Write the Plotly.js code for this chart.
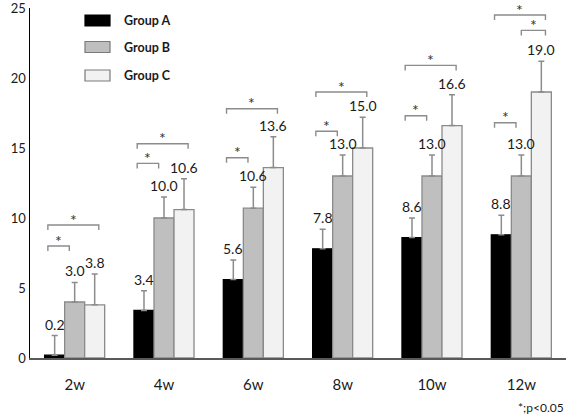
<!DOCTYPE html>
<html>
<head>
<meta charset="utf-8">
<script src="https://cdn.plot.ly/plotly-3.0.1.min.js"></script>
<style>html,body{margin:0;padding:0;background:#fff;}#chart{width:567px;height:415px;}</style>
</head>
<body>
<div id="chart"></div>
<script>
// ---- data ----
var categories = ["2w", "4w", "6w", "8w", "10w", "12w"];
var groupNames = ["Group A", "Group B", "Group C"];
var groupA = [0.2, 3.4, 5.6, 7.8, 8.6, 8.8];
var groupB = [4.0, 10.0, 10.7, 13.0, 13.0, 13.0];
var groupC = [3.8, 10.6, 13.6, 15.0, 16.6, 19.0];
var errA = [1.4, 1.4, 1.4, 1.4, 1.4, 1.4];
var errB = [1.4, 1.5, 1.5, 1.5, 1.5, 1.5];
var errC = [2.2, 2.2, 2.2, 2.2, 2.2, 2.2];
var labelsA = ["0.2", "3.4", "5.6", "7.8", "8.6", "8.8"];
var labelsB = ["3.0", "10.0", "10.6", "13.0", "13.0", "13.0"];
var labelsC = ["3.8", "10.6", "13.6", "15.0", "16.6", "19.0"];
// significance brackets: category index, from group, to group, bracket level
var sigCat   = [0, 0, 1, 1, 2, 2, 3, 3, 4, 4, 5, 5, 5];
var sigFrom  = [0, 0, 0, 0, 0, 0, 0, 0, 0, 0, 0, 1, 0];
var sigTo    = [1, 2, 1, 2, 1, 2, 1, 2, 1, 2, 1, 2, 2];
var sigLevel = [8.0, 9.5, 13.9, 15.3, 14.3, 17.8, 16.2, 19.0, 17.3, 20.9, 16.8, 23.4, 24.5];
var yTicks = [0, 5, 10, 15, 20, 25];
var noteText = "*;p<0.05";

// ---- styling ----
var W = 567, H = 415;
var M = {l: 30, r: 1, t: 8, b: 57};
var bargap = 0.328;
var fills = ["#000000", "#bfbfbf", "#f2f2f2"];
var lines = ["#000000", "#8a8a8a", "#8a8a8a"];
var FONT = "Lato, 'Open Sans', sans-serif";

var vals = [groupA, groupB, groupC];
var errs = [errA, errB, errC];
var labs = [labelsA, labelsB, labelsC];

var traces = vals.map(function (v, g) {
  return {
    type: "bar",
    name: groupNames[g],
    x: categories,
    y: v,
    marker: {color: fills[g], line: {color: lines[g], width: 1.3}},
    error_y: {type: "data", symmetric: false, array: errs[g],
              arrayminus: v.map(function () { return 0; }),
              color: "#8c8c8c", thickness: 1.5, width: 3},
    showlegend: false,
    hoverinfo: "skip"
  };
});

var plotW = W - M.l - M.r;
var catPx = plotW / categories.length;
var barPx = catPx * (1 - bargap) / 3;

var annotations = [];
// value labels
for (var g = 0; g < 3; g++) {
  for (var i = 0; i < categories.length; i++) {
    annotations.push({
      x: categories[i], y: vals[g][i] + errs[g][i], xref: "x", yref: "y",
      xshift: (g - 1) * barPx, yshift: 1,
      yanchor: "bottom", xanchor: "center",
      text: labs[g][i], showarrow: false,
      font: {family: FONT, size: 14, color: "#1a1a1a"}
    });
  }
}

// bracket shapes
var leftEdge = [-0.30, 0.0, 0.0];
var rightEdge = [0.0, -0.06, 0.27];
var shapes = [];
var tick = 0.36;
for (var k = 0; k < sigCat.length; k++) {
  var x0 = sigCat[k] + leftEdge[sigFrom[k]];
  var x1 = sigCat[k] + rightEdge[sigTo[k]];
  var yy = sigLevel[k];
  shapes.push({
    type: "path", xref: "x", yref: "y",
    path: "M" + x0 + "," + (yy - tick) + " L" + x0 + "," + yy + " L" + x1 + "," + yy + " L" + x1 + "," + (yy - tick),
    line: {color: "#8c8c8c", width: 1.4}
  });
  annotations.push({
    x: (x0 + x1) / 2, y: yy, xref: "x", yref: "y",
    yanchor: "bottom", xanchor: "center", yshift: -5.5,
    text: "*", showarrow: false,
    font: {family: FONT, size: 16, color: "#333333"}
  });
}

// custom legend (paper coords from pixel positions)
function px2x(px) { return (px - M.l) / plotW; }
function py2y(py) { return (H - M.b - py) / (H - M.t - M.b); }
var legTop = [15, 41.5, 70];
for (var g2 = 0; g2 < 3; g2++) {
  shapes.push({
    type: "rect", xref: "paper", yref: "paper",
    x0: px2x(85), x1: px2x(110), y0: py2y(legTop[g2] + 11), y1: py2y(legTop[g2]),
    fillcolor: fills[g2], line: {color: lines[g2] === "#000000" ? "#000000" : "#7a7a7a", width: 1.2}
  });
  annotations.push({
    x: px2x(122), y: py2y(legTop[g2] + 5.5), xref: "paper", yref: "paper",
    xanchor: "left", yanchor: "middle", showarrow: false,
    text: "<b>" + groupNames[g2] + "</b>",
    font: {family: FONT, size: 12.5, color: "#1a1a1a"}
  });
}
annotations.push({
  x: px2x(566), y: py2y(407), xref: "paper", yref: "paper",
  xanchor: "right", yanchor: "middle", showarrow: false,
  text: noteText, font: {family: FONT, size: 12, color: "#1a1a1a"}
});

var layout = {
  width: W, height: H,
  margin: M,
  paper_bgcolor: "#ffffff", plot_bgcolor: "#ffffff",
  barmode: "group", bargap: bargap, bargroupgap: 0,
  showlegend: false,
  font: {family: FONT, color: "#1a1a1a"},
  xaxis: {
    type: "category", categoryarray: categories,
    showline: true, linecolor: "#595959", linewidth: 1.5,
    showgrid: false, zeroline: false, ticks: "",
    tickfont: {family: FONT, size: 15, color: "#1a1a1a"},
    ticklabelstandoff: 12
  },
  yaxis: {
    range: [0, 25], tickvals: yTicks, ticktext: yTicks.map(String),
    showline: true, linecolor: "#000000", linewidth: 1.5,
    showgrid: false, zeroline: false, ticks: "",
    tickfont: {family: FONT, size: 13, color: "#1a1a1a"},
    ticklabelstandoff: 12.5,
    ticklabeloverflow: "allow"
  },
  shapes: shapes,
  annotations: annotations
};

Plotly.newPlot("chart", traces, layout, {staticPlot: true, displayModeBar: false});
</script>
</body>
</html>
